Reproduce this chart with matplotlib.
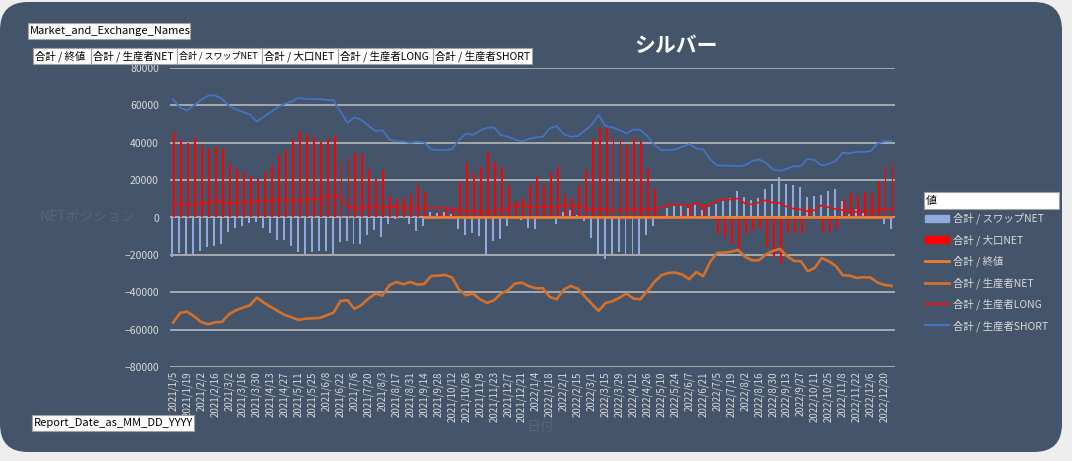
import matplotlib
matplotlib.use('Agg')
import matplotlib.pyplot as plt
import numpy as np
import pandas as pd
from matplotlib.patches import FancyBboxPatch, Rectangle, Patch
from matplotlib.lines import Line2D
from matplotlib.transforms import IdentityTransform

plt.rcParams['font.family'] = ['Noto Sans CJK JP', 'DejaVu Sans']

W, H = 1072, 461

# 週次データ 2021/1/5 〜 2022/12/27
dates = pd.date_range('2021-01-05', periods=104, freq='7D')
date_labels = [f'{d.year}/{d.month}/{d.day}' for d in dates]

swap_net = [
    -21070, -18930, -19650, -20180, -17860, -15720, -15180, -14290, -7680, -5360, -4470,
    -2680, -2320, -5360, -8220, -11790, -12150, -15180, -18400, -19650, -18400,
    -17860, -17860, -19650, -13040, -12500, -14290, -13930, -9110, -6430, -10360,
    -3570, -540, -300, -3570, -7140, -4470, 2680, 2320, 2680, 1610,
    -6250, -9470, -8040, -9820, -20180, -12500, -11610, -4470, -500, -1430, -5540,
    -6250, 200, 710, -3570, 2680, 3930, 1250, -1790, -10890, -19290,
    -21970, -19650, -18400, -19290, -20180, -19650, -9470, -4470, -300, 4820, 6250,
    6790, 4820, 6880, 4110, 5720, 7140, 8840, 10630, 14380, 11070,
    9290, 10180, 15180, 17860, 21430, 17680, 17230, 16430, 10900, 11250, 11880,
    14110, 15180, 8750, 1790, 4380, 2590, 200, -300, -3480, -6250,
]

large_net = [
    45540, 41430, 39650, 42690, 38220, 36970, 38220, 37150, 29110, 26080, 24470,
    21430, 20360, 24470, 28040, 33580, 36080, 42150, 45900, 44650, 43220,
    40360, 41790, 43940, 29110, 32510, 34650, 33930, 25720, 20540, 25180,
    11610, 9640, 10540, 11970, 17500, 13750, 1250, 3210, 4290, 4470,
    19110, 28930, 23580, 26790, 35180, 29830, 27150, 17320, 8930, 10540, 17150,
    21430, 17320, 23580, 27150, 11790, 10000, 17150, 25540, 41790, 48220,
    48040, 43580, 41790, 38760, 41790, 40540, 26250, 15000, 1790, 0, -300,
    2680, 6430, 1250, 7140, 1000, -8570, -10360, -13930, -17150, -8930,
    -6430, -6250, -15720, -21070, -24650, -8220, -8040, -8040, 5540, 0, -7680,
    -7680, -5360, 9290, 12860, 11430, 13400, 12860, 19560, 27680, 28580,
]

prod_long = [
    7500, 7320, 6790, 6970, 7140, 8220, 9290, 7860, 7860, 8040, 8040,
    8220, 8570, 8750, 9110, 9290, 9110, 8930, 9290, 9470, 9820,
    10180, 11070, 11970, 11070, 6070, 4820, 5000, 5540, 5360, 5000,
    5720, 5540, 5000, 5000, 5000, 5000, 5180, 5180, 5180, 4820,
    3930, 3390, 3210, 3040, 2680, 3930, 3930, 4470, 6430, 6250, 5720,
    5720, 5720, 5540, 5180, 6610, 6250, 6070, 5180, 3930, 4820,
    4290, 3930, 3930, 4290, 4290, 3930, 4290, 4470, 5360, 6610, 7140,
    6610, 6430, 7860, 5360, 7140, 8930, 9640, 9640, 10180, 7500,
    6970, 8040, 9290, 7860, 7860, 5720, 4640, 4290, 3390, 3930, 6610,
    5360, 4470, 3930, 3390, 3040, 3040, 3040, 4290, 4470, 4640,
]

prod_short = [
    63220, 58760, 57330, 60010, 62870, 65190, 65370, 63580, 59650, 57870, 56440,
    55190, 51260, 53940, 56440, 58940, 60900, 61970, 64120, 63400, 63400,
    63400, 62870, 62690, 56620, 50720, 53580, 52150, 49120, 46260, 46790,
    41790, 40720, 40720, 40010, 40540, 40190, 36430, 36080, 36080, 36610,
    41430, 45010, 44110, 46440, 48040, 48220, 44110, 43220, 41790, 40720, 42150,
    42860, 43220, 47690, 48940, 44650, 43220, 43580, 46440, 49470, 54830,
    48940, 48220, 46790, 45010, 47150, 46790, 43580, 38760, 36080, 36080, 36430,
    37860, 39290, 36970, 36430, 31080, 27860, 27860, 27680, 27500, 27860,
    30180, 31080, 29290, 25720, 25000, 26080, 27500, 27500, 31430, 30720, 27860,
    28580, 30360, 34650, 34290, 35180, 35000, 35540, 39650, 40720, 41080,
]

prod_net = [
    -56260, -51080, -50370, -52870, -55900, -57150, -56080, -55900, -51790, -49650, -48220,
    -46970, -42860, -45540, -47860, -50010, -52150, -53400, -54830, -54120, -53940,
    -53760, -52330, -50900, -44650, -44290, -48940, -46790, -43400, -40720, -41790,
    -36260, -34470, -35720, -34470, -35900, -35540, -31260, -31080, -30720, -32150,
    -38580, -41610, -40720, -43760, -45720, -44290, -40720, -38930, -35360, -34830, -36790,
    -37860, -37860, -42510, -43760, -38580, -36610, -38040, -42150, -46080, -50010,
    -45720, -44830, -42860, -40720, -43400, -43760, -39290, -34470, -30900, -29650, -29470,
    -30540, -33040, -29110, -31430, -23750, -18930, -18750, -18400, -17320, -21070,
    -22860, -22860, -19650, -17860, -16790, -20540, -23220, -23400, -28750, -26970, -21610,
    -23400, -25900, -30900, -31080, -32330, -31970, -32150, -34830, -36080, -36610,
]

# 終値 (2021/9/14 以降のみ)
close = [np.nan] * 36 + [
    23.8, 22.4, 21.6, 22.6, 23.0, 24.3, 24.2, 23.4, 24.6, 25.0, 23.9, 22.9, 22.2, 21.6, 22.6, 23.0,
    23.0, 23.0, 24.3, 23.9, 22.6, 22.7, 23.6, 24.1, 25.5, 26.2, 25.0, 25.2, 24.9, 24.6, 25.8, 25.9,
    23.5, 22.7, 21.5, 21.6, 22.0, 21.6, 22.1, 20.8, 21.1, 20.8, 19.1, 18.5, 18.7, 18.7, 20.1, 20.6,
    20.1, 19.0, 17.8, 18.2, 19.5, 19.5, 18.7, 20.5, 19.0, 18.6, 19.5, 19.6, 21.5, 21.5, 20.9, 21.5,
    22.5, 23.7, 24.0, 24.0,
]

series_names = ['合計 / スワップNET', '合計 / 大口NET', '合計 / 終値',
                '合計 / 生産者NET', '合計 / 生産者LONG', '合計 / 生産者SHORT']
field_buttons = ['合計 / 終値', '合計 / 生産者NET', '合計 / スワップNET',
                 '合計 / 大口NET', '合計 / 生産者LONG', '合計 / 生産者SHORT']

BG = '#44546a'
TXT = '#d9d9d9'
c_swap, c_large, c_close, c_net, c_long, c_short = \
    '#8faadc', '#ff0000', '#ed7d31', '#d4702a', '#e81010', '#4472c4'

fig = plt.figure(figsize=(W / 100, H / 100), dpi=100, facecolor='#eeeeee')
fig.patches.append(FancyBboxPatch((0, H - 452), 1062, 450,
                                  boxstyle='round,pad=0,rounding_size=28',
                                  transform=IdentityTransform(), fc=BG, ec='none',
                                  zorder=-10))


def fx(x):
    return x / W


def fy(y):
    return 1 - y / H


ax = fig.add_axes([fx(170), fy(367), fx(895 - 170), (367 - 68) / H])
ax.set_facecolor('none')

x = np.arange(len(dates))
ax.bar(x - 0.14, swap_net, width=0.28, color=c_swap, zorder=2)
ax.bar(x + 0.14, large_net, width=0.28, color=c_large, zorder=2)
ax.plot(x, close, color=c_close, lw=2.0, zorder=3)
ax.plot(x, prod_net, color=c_net, lw=1.9, zorder=3)
ax.plot(x, prod_long, color=c_long, lw=1.2, zorder=3)
ax.plot(x, prod_short, color=c_short, lw=1.3, zorder=3)

ax.set_xlim(-0.45, len(dates) - 0.5)
ax.set_ylim(-80000, 80000)
ax.set_yticks(range(-80000, 80001, 20000))
ax.yaxis.grid(True, color='#b8b8b8', lw=1.2)
ax.set_axisbelow(True)
ax.set_xticks(x[::2])
ax.set_xticklabels(date_labels[::2], rotation=90, fontsize=7)
ax.tick_params(axis='x', length=0, colors=TXT, pad=3)
ax.tick_params(axis='y', length=0, colors=TXT, labelsize=7.5, pad=8)
for s in ax.spines.values():
    s.set_visible(False)

fig.text(fx(676), fy(45), 'シルバー', color='white', fontsize=15,
         fontweight='bold', ha='center', va='center')
fig.text(fx(40), fy(217), 'NETポジション', color='#5a6474', fontsize=10,
         ha='left', va='center')
fig.text(fx(540), fy(427), '日付', color='#5a6474', fontsize=10,
         ha='center', va='center')


def button(x0, y0, x1, y1, text, size=8):
    fig.patches.append(Rectangle((fx(x0), fy(y1)), fx(x1 - x0), (y1 - y0) / H,
                                 transform=fig.transFigure, fc='white',
                                 ec='#a0a0a0', lw=0.8, zorder=5))
    fig.text(fx(x0 + 2), fy((y0 + y1) / 2), text, fontsize=size,
             ha='left', va='center', color='black', zorder=6)


button(28, 23, 190, 39, 'Market_and_Exchange_Names')
edges = [33, 91, 177, 262, 338, 433, 532]
for i, name in enumerate(field_buttons):
    button(edges[i], 48, edges[i + 1], 64, name, size=6.5 if 'スワップ' in name else 7.5)
button(32, 415, 194, 431, 'Report_Date_as_MM_DD_YYYY')
button(924, 192, 1059, 209, '値')

handles = [Patch(color=c_swap), Patch(color=c_large),
           Line2D([], [], color=c_close, lw=2), Line2D([], [], color=c_net, lw=2),
           Line2D([], [], color=c_long, lw=1.5), Line2D([], [], color=c_short, lw=1.5)]
fig.legend(handles, series_names, loc='upper left', bbox_to_anchor=(fx(925), fy(213)),
           frameon=False, fontsize=7.5, labelcolor=TXT, handlelength=2.3,
           handletextpad=0.4, labelspacing=0.95, borderaxespad=0, borderpad=0)

fig.savefig('out.png', dpi=100, facecolor=fig.get_facecolor())
